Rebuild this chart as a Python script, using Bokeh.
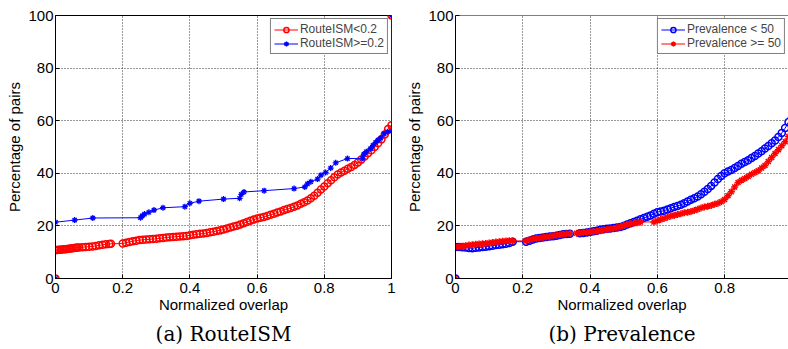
from bokeh.plotting import figure
from bokeh.layouts import row
from bokeh.models import Range1d, FixedTicker, CustomJSTickFormatter, Title, Span
from bokeh.embed import file_html
from bokeh.resources import INLINE

# ---------------- data ----------------
x_ticks_a = [0, 0.2, 0.4, 0.6, 0.8, 1.0]
x_ticks_b = [0, 0.2, 0.4, 0.6, 0.8]
y_ticks = [0, 20, 40, 60, 80, 100]

# (a) RouteISM < 0.2  (red, circles)
a_low_x = [0, 0, 0.005, 0.01, 0.015, 0.02, 0.025, 0.03, 0.035, 0.04, 0.045, 0.05, 0.055, 0.06, 0.065,
           0.07, 0.08, 0.09, 0.10, 0.11, 0.12, 0.13, 0.14, 0.15, 0.16, 0.165,
           0.20, 0.21, 0.22, 0.23, 0.24, 0.25, 0.26, 0.27, 0.28, 0.29, 0.30, 0.31, 0.32, 0.33, 0.34,
           0.35, 0.36, 0.37, 0.38, 0.39, 0.40, 0.41, 0.42, 0.43, 0.44, 0.45, 0.46, 0.47, 0.48, 0.49,
           0.50, 0.51, 0.52, 0.53, 0.54, 0.55, 0.56, 0.57, 0.58, 0.59, 0.60, 0.61, 0.62, 0.63, 0.64,
           0.65, 0.66, 0.67, 0.68, 0.69, 0.70, 0.71, 0.72, 0.73, 0.74, 0.75, 0.76, 0.77, 0.78, 0.79,
           0.80, 0.81, 0.82, 0.83, 0.84, 0.85, 0.86, 0.87, 0.88, 0.89, 0.90, 0.91, 0.92, 0.93, 0.94,
           0.95, 0.96, 0.97, 0.98, 0.99, 1.0, 1.0]
a_low_y = [0, 10.8, 10.8, 10.9, 10.9, 11.0, 11.1, 11.1, 11.2, 11.3, 11.4, 11.5, 11.6, 11.7, 11.8,
           11.8, 11.9, 12.0, 12.1, 12.2, 12.4, 12.6, 12.8, 13.0, 13.1, 13.2,
           13.3, 13.6, 13.9, 14.2, 14.4, 14.6, 14.7, 14.8, 14.9, 15.0, 15.1, 15.3, 15.4, 15.6, 15.7,
           15.8, 15.9, 16.0, 16.1, 16.2, 16.4, 16.6, 16.8, 17.0, 17.1, 17.3, 17.6, 17.8, 18.1, 18.3,
           18.6, 19.0, 19.4, 19.8, 20.1, 20.5, 21.0, 21.5, 22.0, 22.4, 22.8, 23.1, 23.4, 23.8, 24.2,
           24.6, 25.1, 25.5, 26.0, 26.4, 26.8, 27.3, 27.8, 28.4, 29.0, 29.7, 30.5, 31.5, 32.6, 33.8,
           35.0, 36.2, 37.4, 38.5, 39.5, 40.3, 41.0, 41.7, 42.4, 43.2, 44.1, 45.2, 46.4, 47.6, 48.8,
           50.0, 51.4, 52.9, 54.8, 56.8, 58.3, 100]

# (a) RouteISM >= 0.2  (blue, asterisks)
a_high_x = [0, 0, 0.057, 0.111, 0.253, 0.258, 0.265, 0.278, 0.293, 0.32, 0.385, 0.40, 0.427, 0.50,
            0.548, 0.553, 0.561, 0.621, 0.71, 0.742, 0.75, 0.76, 0.78, 0.79, 0.804, 0.819, 0.834,
            0.869, 0.914, 0.918, 0.925, 0.938, 0.945, 0.953, 0.96, 0.968, 0.978, 0.988, 1.0, 1.0]
a_high_y = [0, 21.4, 22.2, 23.0, 23.1, 23.8, 24.5, 25.2, 26.0, 26.9, 27.3, 28.6, 29.4, 30.2,
            30.5, 32.0, 32.9, 33.4, 34.2, 34.8, 36.0, 36.8, 37.8, 39.3, 40.3, 42.0, 44.0,
            45.6, 45.7, 47.3, 48.2, 49.4, 50.6, 51.8, 52.6, 53.4, 55.0, 55.8, 56.0, 100]

# (b) Prevalence < 50  (blue, circles)
b_low_x = [0, 0, 0.01, 0.02, 0.03, 0.04, 0.05, 0.06, 0.07, 0.08, 0.09, 0.10, 0.11, 0.12, 0.13, 0.14,
           0.15, 0.16, 0.17, 0.21, 0.22, 0.23, 0.24, 0.25, 0.26, 0.27, 0.28, 0.29, 0.30, 0.31, 0.32,
           0.33, 0.34, 0.37, 0.38, 0.39, 0.40, 0.41, 0.42, 0.43, 0.44, 0.45, 0.46, 0.47, 0.48, 0.49,
           0.50, 0.51, 0.52, 0.53, 0.54, 0.55, 0.56, 0.57, 0.58, 0.59, 0.60, 0.61, 0.62, 0.63, 0.64,
           0.65, 0.66, 0.67, 0.68, 0.69, 0.70, 0.71, 0.72, 0.73, 0.74, 0.75, 0.76, 0.77, 0.78, 0.79,
           0.80, 0.81, 0.82, 0.83, 0.84, 0.85, 0.86, 0.87, 0.88, 0.89, 0.90, 0.91, 0.92, 0.93, 0.94,
           0.95, 0.96, 0.97, 0.98, 0.99, 1.0]
b_low_y = [0, 12.0, 12.0, 11.9, 11.8, 11.6, 11.5, 11.7, 11.8, 12.0, 12.1, 12.3, 12.5, 12.7, 12.8, 13.0,
           13.2, 13.5, 14.0, 14.0, 14.4, 14.8, 15.2, 15.4, 15.6, 15.8, 16.0, 16.1, 16.3, 16.5, 16.8,
           16.9, 17.0, 17.2, 17.3, 17.5, 17.7, 18.0, 18.2, 18.5, 18.7, 18.9, 19.0, 19.2, 19.4, 19.6,
           20.0, 20.5, 21.0, 21.5, 22.0, 22.5, 23.0, 23.5, 24.0, 24.6, 25.2, 25.5, 25.8, 26.2, 26.7,
           27.2, 27.6, 28.0, 28.6, 29.3, 29.9, 30.5, 31.2, 32.0, 33.0, 34.0, 35.2, 36.5, 37.8, 39.0,
           40.0, 40.7, 41.3, 42.0, 42.8, 43.6, 44.3, 45.0, 45.8, 46.6, 47.5, 48.4, 49.4, 50.4, 51.4,
           52.5, 53.8, 55.3, 57.2, 59.5, 61.0]

# (b) Prevalence >= 50  (red, asterisks)
b_high_x = [0, 0, 0.01, 0.02, 0.03, 0.04, 0.05, 0.06, 0.07, 0.08, 0.09, 0.10, 0.11, 0.12, 0.13, 0.14,
            0.15, 0.16, 0.17, 0.21, 0.22, 0.23, 0.24, 0.25, 0.26, 0.27, 0.28, 0.29, 0.30, 0.31, 0.32,
            0.33, 0.34, 0.36, 0.37, 0.38, 0.39, 0.40, 0.41, 0.42, 0.43, 0.44, 0.45, 0.46, 0.47, 0.48,
            0.49, 0.50, 0.51, 0.52, 0.53, 0.54, 0.55, 0.59, 0.60, 0.61, 0.62, 0.63, 0.64, 0.65, 0.66,
            0.67, 0.68, 0.69, 0.70, 0.71, 0.72, 0.73, 0.74, 0.75, 0.76, 0.77, 0.78, 0.79, 0.80, 0.81,
            0.82, 0.83, 0.84, 0.85, 0.86, 0.87, 0.88, 0.89, 0.90, 0.91, 0.92, 0.93, 0.94, 0.95, 0.96,
            0.97, 0.98, 0.99, 1.0]
b_high_y = [0, 12.0, 12.1, 12.3, 12.5, 12.7, 12.8, 13.0, 13.1, 13.2, 13.3, 13.5, 13.7, 13.9, 14.0, 14.2,
            14.3, 14.4, 14.3, 14.3, 14.7, 15.0, 15.2, 15.4, 15.6, 15.8, 16.0, 16.3, 16.5, 16.6, 16.8,
            17.0, 17.1, 17.2, 17.3, 17.5, 17.6, 17.8, 17.9, 18.0, 18.2, 18.4, 18.6, 18.8, 19.0, 19.3,
            19.7, 20.2, 20.5, 20.8, 21.0, 21.2, 21.5, 21.5, 22.0, 22.4, 22.8, 23.3, 23.8, 24.0, 24.3,
            24.6, 25.0, 25.2, 25.5, 25.9, 26.3, 26.8, 27.2, 27.5, 27.8, 28.2, 28.6, 29.2, 30.0, 31.5,
            33.0, 34.8, 36.5, 37.4, 38.0, 38.8, 39.6, 40.3, 41.0, 42.0, 43.0, 44.5, 46.0, 47.5, 49.0,
            50.5, 52.0, 54.0, 56.0]

RED = "#ff0000"
BLUE = "#0000ff"
SANS = "Liberation Sans"

fmt = CustomJSTickFormatter(code="var s = tick.toFixed(1); return s.replace(/\\.0$/, '');")


def make_fig(width, border_left, border_right, x_end, xt, caption):
    p = figure(width=width, height=349, output_backend="svg", toolbar_location=None,
               x_range=Range1d(0, x_end), y_range=Range1d(0, 100),
               min_border_left=border_left, min_border_right=border_right,
               min_border_top=15, min_border_bottom=70)
    p.background_fill_color = "white"
    p.border_fill_color = "white"
    p.outline_line_color = "black"
    p.outline_line_width = 1
    for ax in (p.xaxis[0], p.yaxis[0]):
        ax.axis_line_color = "black"
        ax.major_tick_in = 4
        ax.major_tick_out = 0
        ax.minor_tick_line_color = None
        ax.major_label_text_font = SANS
        ax.major_label_text_font_size = "15px"
        ax.major_label_text_color = "black"
        ax.axis_label_text_font = SANS
        ax.axis_label_text_font_size = "15px"
        ax.axis_label_text_font_style = "normal"
        ax.axis_label_text_color = "black"
    p.xaxis[0].ticker = FixedTicker(ticks=xt)
    p.xaxis[0].formatter = fmt
    p.xaxis[0].axis_label = "Normalized overlap"
    p.xaxis[0].axis_label_standoff = 0
    p.xaxis[0].major_label_standoff = 4
    p.yaxis[0].ticker = FixedTicker(ticks=y_ticks)
    p.yaxis[0].axis_label = "Percentage of pairs"
    p.yaxis[0].axis_label_standoff = 2
    p.yaxis[0].major_label_standoff = 2
    p.xgrid.ticker = FixedTicker(ticks=xt)
    p.ygrid.ticker = FixedTicker(ticks=y_ticks)
    for g in (p.xgrid[0], p.ygrid[0]):
        g.grid_line_color = "black"
        g.grid_line_dash = "1 2"
        g.grid_line_alpha = 0.8
        g.grid_line_width = 1
    t = Title(text=caption, align="center", text_font="DejaVu Serif", text_font_size="20px",
              text_font_style="normal", text_color="black", standoff=8)
    p.add_layout(t, "below")
    return p


# ---------------- (a) RouteISM ----------------
pa = make_fig(397, 55, 6, 1.0, x_ticks_a, "(a) RouteISM")
pa.line(a_low_x, a_low_y, line_color=RED, line_width=1, legend_label="RouteISM<0.2")
pa.scatter(a_low_x, a_low_y, marker="circle", size=7, fill_color=None, line_color=RED,
           line_width=1.5, legend_label="RouteISM<0.2")
pa.line(a_high_x, a_high_y, line_color=BLUE, line_width=1, legend_label="RouteISM>=0.2")
pa.scatter(a_high_x, a_high_y, marker="asterisk", size=6, line_color=BLUE, line_width=1.3,
           legend_label="RouteISM>=0.2")

# ---------------- (b) Prevalence ----------------
pb = make_fig(391, 58, 0, 0.99, x_ticks_b, "(b) Prevalence")
pb.outline_line_color = None
pb.add_layout(Span(location=100, dimension="width", line_color="black", line_width=1))
pb.line(b_low_x, b_low_y, line_color=BLUE, line_width=1, legend_label="Prevalence < 50")
pb.scatter(b_low_x, b_low_y, marker="circle", size=7, fill_color=None, line_color=BLUE,
           line_width=1.5, legend_label="Prevalence < 50")
pb.line(b_high_x, b_high_y, line_color=RED, line_width=1, legend_label="Prevalence >= 50")
pb.scatter(b_high_x, b_high_y, marker="asterisk", size=7, line_color=RED, line_width=1.5,
           legend_label="Prevalence >= 50")

for p in (pa, pb):
    lg = p.legend[0]
    lg.location = "top_right"
    lg.margin = 3
    lg.padding = 3
    lg.spacing = 0
    lg.label_text_font = SANS
    lg.label_text_font_size = "12px"
    lg.label_height = 13
    lg.glyph_height = 13
    lg.glyph_width = 24
    lg.label_standoff = 2
    lg.border_line_color = "black"
    lg.border_line_width = 1
    lg.background_fill_alpha = 1

layout = row(pa, pb, spacing=0)
open("out.html", "w").write(file_html(layout, INLINE))
